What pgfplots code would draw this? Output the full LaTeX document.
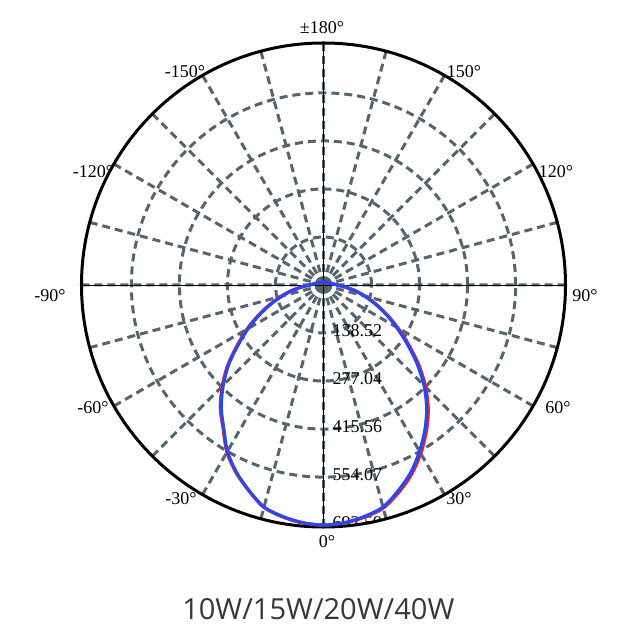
\documentclass[border=0pt]{standalone}
\usepackage{pgfplots}
\pgfplotsset{compat=1.18}
\usepackage{pgfplotstable}
\usepgfplotslibrary{polar}
\usepackage{fontspec}
\setmainfont{Liberation Serif}
\newfontfamily\titlefont{Open Sans}
\definecolor{gridgray}{RGB}{86,101,109}
\definecolor{curveblue}{RGB}{40,72,245}
\definecolor{curvered}{RGB}{240,30,40}
\definecolor{titlegray}{RGB}{55,55,55}

% t = chart angle (0 = down, positive = right), r = intensity
\pgfplotstableread{
t r
-180 9.5
-165 10
-150 10.5
-135 11
-120 13
-110 16
-100 23
-95 30
-90 39
-85 61
-80 92
-75 124
-70 162
-65 204
-60 251
-55 300
-50 357
-45 409
-40 459
-35 502
-30 554
-25 595
-20 630
-15 663
-10 678
-5 688
0 692.6
5 688
10 678
15 663
20 631
25 596
30 554
35 510
40 463
45 410
50 352
55 294
60 243
65 198
70 158
75 122
80 90
85 60
90 39
95 30
100 23
110 16
120 13
135 11
150 10.5
165 10
180 9.5
}\bluedata

\pgfplotstableread{
t r
-180 9.5
-165 10
-150 10.5
-135 11
-120 13
-110 16
-100 23
-95 31
-90 40
-85 62
-80 94
-75 126
-70 165
-65 208
-60 255
-55 304
-50 361
-45 413
-40 463
-35 505
-30 557
-25 597
-20 631
-15 664
-10 679
-5 689
0 692.6
5 689
10 680
15 666
20 636
25 602
30 561
35 517
40 470
45 417
50 359
55 300
60 248
65 202
70 161
75 124
80 92
85 61
90 40
95 31
100 23
110 16
120 13
135 11
150 10.5
165 10
180 9.5
}\reddata

\begin{document}
\begin{tikzpicture}[x=1pt,y=1pt]
\useasboundingbox (0pt,0pt) rectangle (637pt,637pt);
\begin{polaraxis}[
  at={(323.5pt,352pt)}, anchor=origin,
  scale only axis, width=484pt, height=484pt,
  xmin=0, xmax=360, ymin=0, ymax=698,
  xtick={0,15,...,345},
  ytick={138.52,277.04,415.56,554.07},
  xticklabels={}, yticklabels={},
  major tick length=0pt,
  grid=major,
  major grid style={gridgray, line width=3pt, dash pattern=on 8pt off 5pt},
  x axis line style={black, line width=3pt},
  y axis line style={draw=none},
]
\draw[white, line width=3.5pt] (axis cs:0,0) circle[radius=11.5pt];
\fill[gridgray] (axis cs:0,0) circle[radius=9pt];
\draw[black, line width=0.8pt] (axis cs:0,698) -- (axis cs:180,698);
\draw[black, line width=0.8pt] (axis cs:90,698) -- (axis cs:270,698);
\node[anchor=west, inner sep=0pt, xshift=9pt, yshift=2pt, font=\fontsize{18}{20}\selectfont] at (axis cs:270,138.52) {138.52};
\node[anchor=west, inner sep=0pt, xshift=9pt, yshift=2pt, font=\fontsize{18}{20}\selectfont] at (axis cs:270,277.04) {277.04};
\node[anchor=west, inner sep=0pt, xshift=9pt, yshift=2pt, font=\fontsize{18}{20}\selectfont] at (axis cs:270,415.56) {415.56};
\node[anchor=west, inner sep=0pt, xshift=9pt, yshift=2pt, font=\fontsize{18}{20}\selectfont] at (axis cs:270,554.07) {554.07};
\node[anchor=west, inner sep=0pt, xshift=9pt, yshift=2pt, font=\fontsize{18}{20}\selectfont] at (axis cs:270,692.59) {692.59};
\addplot[curvered, line width=3.2pt, no markers, smooth] table[x expr=\thisrow{t}-90, y=r] {\reddata};
\addplot[curveblue, line width=3.2pt, no markers, smooth] table[x expr=\thisrow{t}-90, y=r] {\bluedata};
\end{polaraxis}
\begin{scope}[every node/.style={inner sep=0pt, font=\fontsize{18}{20}\selectfont}]
\node at (327pt,95pt) {0°};
\node at (459pt,138pt) {30°};
\node at (558pt,229pt) {60°};
\node at (585pt,341pt) {90°};
\node at (556pt,465pt) {120°};
\node at (464pt,565pt) {150°};
\node at (322pt,609pt) {±180°};
\node at (185pt,565pt) {-150°};
\node at (93pt,465pt) {-120°};
\node at (50pt,341pt) {-90°};
\node at (93pt,229pt) {-60°};
\node at (181pt,138pt) {-30°};
\end{scope}
\node[anchor=base, inner sep=0pt, text=titlegray, font=\titlefont\fontsize{29}{32}\selectfont] at (318.3pt,17.7pt) {10W/15W/20W/40W};
\end{tikzpicture}
\end{document}
